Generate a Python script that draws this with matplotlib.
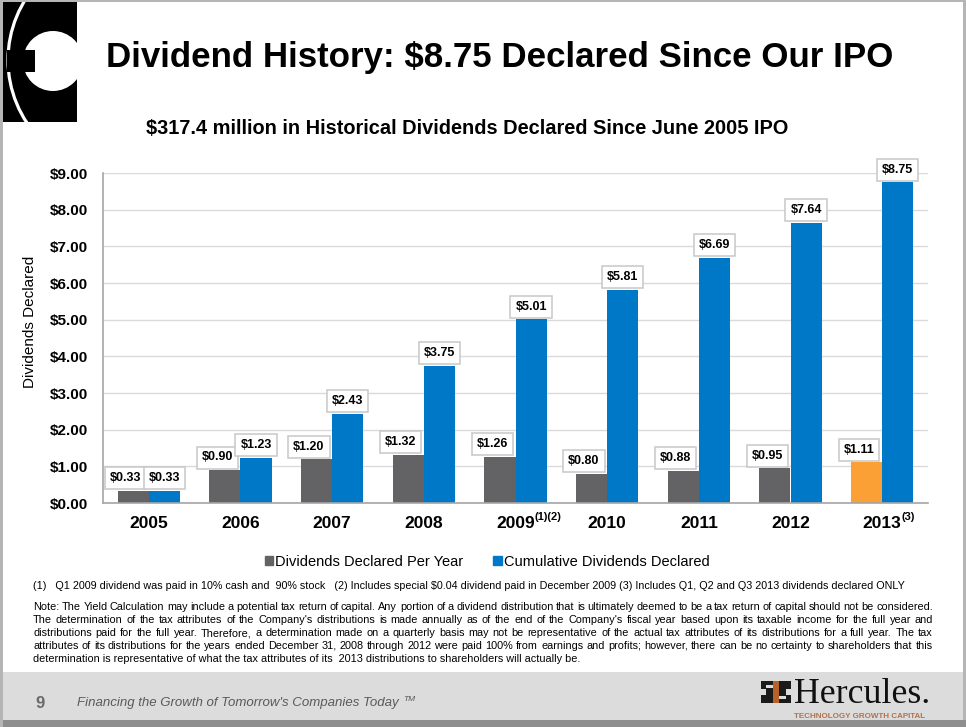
import matplotlib
matplotlib.use('Agg')
import matplotlib.pyplot as plt
from matplotlib import font_manager
from matplotlib.patches import Rectangle, Circle, Patch

# ---------- data ----------
years = ['2005', '2006', '2007', '2008', '2009', '2010', '2011', '2012', '2013']
year_notes = ['', '', '', '', '(1)(2)', '', '', '', '(3)']
per_year = [0.33, 0.90, 1.20, 1.32, 1.26, 0.80, 0.88, 0.95, 1.11]
cumulative = [0.33, 1.23, 2.43, 3.75, 5.01, 5.81, 6.69, 7.64, 8.75]
y_ticks = [0, 1, 2, 3, 4, 5, 6, 7, 8, 9]

title = 'Dividend History: $8.75 Declared Since Our IPO'
subtitle = '$317.4 million in Historical Dividends Declared Since June 2005 IPO'
footnote = ('(1)   Q1 2009 dividend was paid in 10% cash and  90% stock   '
            '(2) Includes special $0.04 dividend paid in December 2009 '
            '(3) Includes Q1, Q2 and Q3 2013 dividends declared ONLY')
note_lines = [
    "Note: The Yield Calculation may include a potential tax return of capital. Any portion of a dividend distribution that is ultimately deemed to be a tax return of capital should not be considered.",
    "The determination of the tax attributes of the Company's distributions is made annually as of the end of the Company's fiscal year based upon its taxable income for the full year and",
    "distributions paid for the full year. Therefore, a determination made on a quarterly basis may not be representative of the actual tax attributes of its distributions for a full year. The tax",
    "attributes of its distributions for the years ended December 31, 2008 through 2012 were paid 100% from earnings and profits; however, there can be no certainty to shareholders that this",
    "determination is representative of what the tax attributes of its  2013 distributions to shareholders will actually be.",
]

GRAY = '#636265'
BLUE = '#0078c8'
ORANGE = '#fba035'


def has_font(name):
    try:
        font_manager.findfont(font_manager.FontProperties(family=name), fallback_to_default=False)
        return True
    except ValueError:
        return False


SANS = 'Liberation Sans'
NARROW = 'Liberation Sans Narrow' if has_font('Liberation Sans Narrow') else SANS
plt.rcParams['font.family'] = [SANS, 'DejaVu Sans']

W, H = 966, 727
fig = plt.figure(figsize=(W / 100, H / 100), dpi=100, facecolor='#b5b5b5')
renderer = fig.canvas.get_renderer()

# background axes in pixel coordinates
bg = fig.add_axes([0, 0, 1, 1])
bg.set_xlim(0, W)
bg.set_ylim(H, 0)
bg.axis('off')

bg.add_patch(Rectangle((3, 2), 960, 718, color='white', lw=0))
bg.add_patch(Rectangle((3, 672), 960, 48, color='#dcdcdc', lw=0))
bg.add_patch(Rectangle((3, 720), 963, 7, color='#8e8e8e', lw=0))

# top-left logo
box = Rectangle((3, 2), 74, 120, color='black', lw=0)
bg.add_patch(box)
ring = Circle((122, 60), 114, fill=False, ec='white', lw=2.3)
bg.add_patch(ring)
ring.set_clip_path(box)
disk = Circle((53, 61), 30, color='white', lw=0)
bg.add_patch(disk)
disk.set_clip_path(box)
bg.add_patch(Rectangle((7, 50), 28, 22, color='black', lw=0))


def fit_width(txt, width):
    w = txt.get_window_extent(renderer).width
    txt.set_fontsize(txt.get_fontsize() * width / w)


t = bg.text(500, 57, title, ha='center', va='center', fontsize=30,
            fontweight='bold', family=NARROW)
fit_width(t, 786)
t = bg.text(467, 129, subtitle, ha='center', va='center', fontsize=13,
            fontweight='bold', family=SANS)
fit_width(t, 641)

bg.text(30, 322, 'Dividends Declared', rotation=90, ha='center', va='center',
        fontsize=11)

# ---------- chart ----------
ax = fig.add_axes([103 / W, 1 - 503 / H, 825 / W, 330 / H])
ax.set_facecolor('none')
x = list(range(len(years)))
bw = 0.34
ann_colors = [GRAY] * (len(years) - 1) + [ORANGE]
ax.bar([i - bw / 2 for i in x], per_year, bw, color=ann_colors, zorder=2)
ax.bar([i + bw / 2 for i in x], cumulative, bw, color=BLUE, zorder=2)

ax.set_xlim(-0.5, 8.5)
ax.set_ylim(0, 9)
ax.set_yticks(y_ticks, [f'${v:.2f}' for v in y_ticks], fontsize=11, fontweight='bold')
ax.set_xticks(x, years, fontsize=12.5, fontweight='bold')
ax.tick_params(axis='both', length=0)
ax.tick_params(axis='y', pad=11)
ax.tick_params(axis='x', pad=9)
ax.set_axisbelow(True)
ax.yaxis.grid(True, color='#dadada', lw=1)
for s in ['top', 'right']:
    ax.spines[s].set_visible(False)
for s in ['left', 'bottom']:
    ax.spines[s].set_color('#a6a6a6')
    ax.spines[s].set_linewidth(1.2)

box_style = dict(boxstyle='square,pad=0.4', fc='white', ec='#c8c8c8', lw=1.1)
for i in x:
    ax.annotate(f'${per_year[i]:.2f}', (i - bw / 2, per_year[i]), xytext=(-5.5, 9),
                textcoords='offset points', ha='center', va='center',
                fontsize=9, fontweight='bold', bbox=box_style, zorder=3)
    ax.annotate(f'${cumulative[i]:.2f}', (i + bw / 2, cumulative[i]), xytext=(0, 9),
                textcoords='offset points', ha='center', va='center',
                fontsize=9, fontweight='bold', bbox=box_style, zorder=3)
    if year_notes[i]:
        ax.annotate(year_notes[i], (i, 0), xycoords=ax.get_xaxis_transform(),
                    xytext=(14, -10), textcoords='offset points', ha='left',
                    va='center', fontsize=8, fontweight='bold')

fig.legend(handles=[Patch(color=GRAY, label='Dividends Declared Per Year'),
                    Patch(color=BLUE, label='Cumulative Dividends Declared')],
           loc='center', bbox_to_anchor=(487 / W, 1 - 562 / H), ncol=2,
           frameon=False, prop={'family': SANS, 'size': 10.5},
           handlelength=0.6, handleheight=0.6, handletextpad=0.15,
           columnspacing=2.0)

# ---------- notes ----------
t = bg.text(33, 586, footnote, ha='left', va='center', fontsize=7, family=NARROW)
fit_width(t, 864)

note_size = 7
probe = bg.text(0, 0, note_lines[0], fontsize=note_size, family=NARROW)
note_size = note_size * 900 / probe.get_window_extent(renderer).width
probe.remove()


def justify(line, x0, x1, y, size):
    words = line.split()
    arts = [bg.text(0, y, w, ha='left', va='center', fontsize=size, family=NARROW)
            for w in words]
    widths = [a.get_window_extent(renderer).width for a in arts]
    gap = (x1 - x0 - sum(widths)) / (len(words) - 1)
    pos = x0
    for a, w in zip(arts, widths):
        a.set_x(pos)
        pos += w + gap


for k, line in enumerate(note_lines):
    y = 607 + k * 13
    if k < len(note_lines) - 1:
        justify(line, 33, 933, y, note_size)
    else:
        bg.text(33, y, line, ha='left', va='center', fontsize=note_size, family=NARROW)

# ---------- footer ----------
bg.text(40, 703, '9', ha='center', va='center', fontsize=12, fontweight='bold',
        color='#6a6a6a')
ft = bg.text(77, 703, "Financing the Growth of Tomorrow's Companies Today",
             ha='left', va='center', fontsize=9.5, style='italic', color='#5a5a5a')
bg.annotate('TM', xy=(1, 1), xycoords=ft, xytext=(3, -2), textcoords='offset points',
            ha='left', va='center', fontsize=6, style='italic', color='#5a5a5a')

# Hercules mark
bg.add_patch(Rectangle((761, 681), 30, 22, color='#1a1a1a', lw=0))
bg.add_patch(Rectangle((773, 681), 6, 22, color='#b8622a', lw=0))
bg.add_patch(Rectangle((761, 689), 5, 6, color='#dcdcdc', lw=0))
bg.add_patch(Rectangle((786, 689), 5, 6, color='#dcdcdc', lw=0))
bg.add_patch(Rectangle((766, 685), 7, 3, color='#dcdcdc', lw=0))
bg.add_patch(Rectangle((779, 696), 7, 3, color='#dcdcdc', lw=0))
t = bg.text(794, 703, 'Hercules.', ha='left', va='baseline', fontsize=21,
            family=['Liberation Serif', 'DejaVu Serif'], color='#111111')
fit_width(t, 136)
t = bg.text(794, 716.5, 'TECHNOLOGY GROWTH CAPITAL', ha='left', va='center',
            fontsize=5.5, fontweight='bold', color='#b0724e')
fit_width(t, 130)

fig.savefig('out.png', dpi=100, facecolor=fig.get_facecolor())
